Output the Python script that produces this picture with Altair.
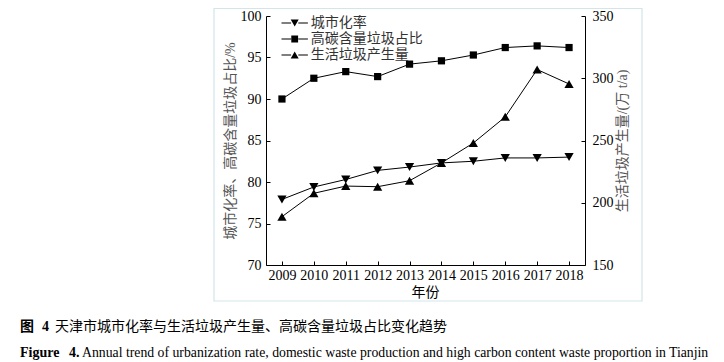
import altair as alt
import pandas as pd

# ---------------- data ----------------
years = [2009, 2010, 2011, 2012, 2013, 2014, 2015, 2016, 2017, 2018]
urbanization = [77.9, 79.4, 80.3, 81.4, 81.8, 82.3, 82.5, 82.9, 82.9, 83.0]
high_carbon = [90.0, 92.5, 93.3, 92.7, 94.2, 94.6, 95.3, 96.2, 96.4, 96.2]
waste = [188.8, 207.6, 213.4, 212.9, 217.7, 232.0, 248.0, 269.0, 307.0, 295.4]
series_names = ["城市化率", "高碳含量垃圾占比", "生活垃圾产生量"]
left_ticks = [70, 75, 80, 85, 90, 95, 100]
right_ticks = [150, 200, 250, 300, 350]

FONT = "Liberation Serif, Noto Sans CJK SC"
CJK = "Noto Sans CJK SC"
W, H = 319, 249

left_df = pd.DataFrame({
    "year": years * 2,
    "value": urbanization + high_carbon,
    "series": [series_names[0]] * len(years) + [series_names[1]] * len(years),
})
right_df = pd.DataFrame({"year": years, "value": waste, "series": series_names[2]})
legend_df = pd.DataFrame({"series": series_names, "year": [2009] * 3, "value": [0] * 3})

inward = {"expr": "-4"}

x_enc = alt.X(
    "year:Q",
    scale=alt.Scale(domain=[2008.5, 2018.5], nice=False, zero=False),
    axis=alt.Axis(
        values=years, format="d", title="年份", tickSize=inward, labelPadding=7,
        titleX=159, titleY=27, titleAlign="center", titleBaseline="middle",
        titleAnchor="start",
    ),
)

y_left = alt.Y(
    "value:Q",
    scale=alt.Scale(domain=[70, 100], nice=False, zero=False),
    axis=alt.Axis(
        orient="left", values=left_ticks, tickSize=inward, labelPadding=9,
        title="城市化率、高碳含量垃圾占比/%", titleX=-36, titleY=H / 2,
        titleAngle=270, titleAlign="center", titleBaseline="middle",
        titleAnchor="start", titleColor="#555",
    ),
)

y_right = alt.Y(
    "value:Q",
    scale=alt.Scale(domain=[150, 350], nice=False, zero=False),
    axis=alt.Axis(
        orient="right", values=right_ticks, tickSize=inward, labelPadding=11,
        title="生活垃圾产生量/(万 t/a)", titleX=37, titleY=H / 2,
        titleAngle=270, titleAlign="center", titleBaseline="middle",
        titleAnchor="start", titleColor="#555",
    ),
)

left_base = alt.Chart(left_df)
left_lines = left_base.mark_line(color="black", strokeWidth=1).encode(
    x=x_enc, y=y_left, detail="series:N"
)
urban_pts = left_base.transform_filter(
    alt.datum.series == series_names[0]
).mark_point(shape="triangle-down", filled=True, color="black", size=85, opacity=1).encode(
    x=x_enc, y=y_left
)
carbon_pts = left_base.transform_filter(
    alt.datum.series == series_names[1]
).mark_point(shape="square", filled=True, color="black", size=52, opacity=1).encode(
    x=x_enc, y=y_left
)

# legend: line-marker-line symbols (side segments drawn as thin filled bars)
seg = "M-3.3,-0.13H-0.9V0.13H-3.3ZM0.9,-0.13H3.3V0.13H0.9Z"
sym_paths = [
    seg + "M-1,-0.87L1,-0.87L0,0.87Z",
    seg + "M-0.85,-0.85H0.85V0.85H-0.85Z",
    seg + "M-1,0.87L1,0.87L0,-0.87Z",
]
legend_layer = alt.Chart(legend_df).mark_point(
    filled=True, color="black", clip=True, size=64, opacity=1
).encode(
    x=x_enc,
    y=y_left,
    shape=alt.Shape(
        "series:N",
        scale=alt.Scale(domain=series_names, range=sym_paths),
        legend=alt.Legend(
            title=None, orient="none", legendX=21.7, legendY=0,
            labelFont=FONT, labelFontSize=14, labelColor="#333",
            symbolSize=64, labelOffset=9, padding=0, rowPadding=2,
            symbolFillColor="black",
        ),
    ),
)

one = alt.Data(values=[{"k": 1}])
frame = alt.Chart(one).mark_rect(fill=None, stroke="#d3e5ea", strokeWidth=1.2).encode(
    x=alt.value(-52), x2=alt.value(376), y=alt.value(-7.5), y2=alt.value(285)
)


def txt(s, x, y, font, size, weight="normal"):
    return alt.Chart(one).mark_text(
        align="left", baseline="alphabetic", font=font, fontSize=size,
        fontWeight=weight, color="black",
    ).encode(x=alt.value(x), y=alt.value(y), text=alt.value(s))


captions = [
    txt("图", -246, 315, CJK, 14, "bold"),
    txt("4", -224, 315, "Liberation Serif", 14, "bold"),
    txt("天津市城市化率与生活垃圾产生量、高碳含量垃圾占比变化趋势", -211, 315, CJK, 14),
    txt("Figure", -246, 341, "Liberation Serif", 14, "bold"),
    txt("4.", -197, 341, "Liberation Serif", 14, "bold"),
    txt("Annual trend of urbanization rate, domestic waste production and high carbon content waste proportion in Tianjin",
        -184, 341, "Liberation Serif", 13.75),
]

left = alt.layer(frame, left_lines, urban_pts, carbon_pts, legend_layer, *captions)

right_base = alt.Chart(right_df)
right_line = right_base.mark_line(color="black", strokeWidth=1).encode(x=x_enc, y=y_right)
right_pts = right_base.mark_point(
    shape="triangle-up", filled=True, color="black", size=85, opacity=1
).encode(x=x_enc, y=y_right)
right = alt.layer(right_line, right_pts)

chart = alt.layer(left, right).resolve_scale(y="independent").properties(
    width=W, height=H,
    autosize=alt.AutoSizeParams(type="none"),
    padding={"left": 258, "top": 8, "right": 131, "bottom": 95},
).configure_view(stroke=None).configure_axis(
    grid=False, domainColor="black", tickColor="black", labelColor="black",
    labelFont=FONT, labelFontSize=14, titleFont=FONT, titleFontSize=14,
    titleFontWeight="normal", domainWidth=1, tickWidth=1,
).configure_axisY(titleColor="#555")

chart.save("out.html", embed_options={"renderer": "svg", "actions": False})
